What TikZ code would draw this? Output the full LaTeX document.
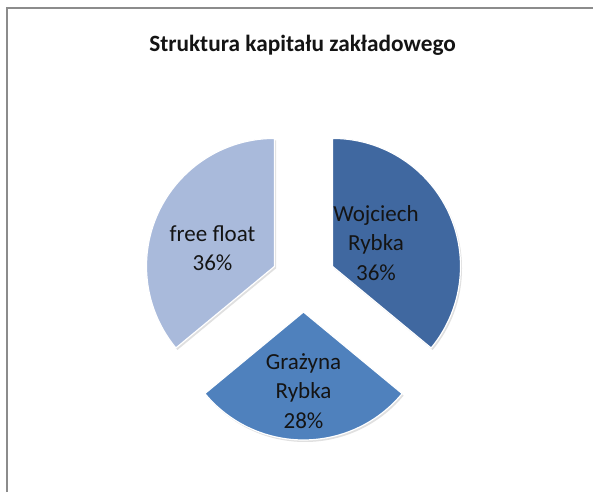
\documentclass[tikz,border=0pt]{standalone}
\usepackage{fontspec}
\setmainfont{Carlito}
\definecolor{wojc}{HTML}{4068A0}
\definecolor{graz}{HTML}{4F81BD}
\definecolor{ffl}{HTML}{A9BADB}
\definecolor{frame}{HTML}{8C8C8C}
\definecolor{txt}{HTML}{141414}
\tikzset{
  slice/.style={draw=white, line width=1.2pt, line join=round},
  lbl/.style={align=center, text=txt, font=\fontsize{23}{29.5}\selectfont, inner sep=0pt},
  ttl/.style={text=txt, font=\fontsize{23.3}{28}\selectfont\bfseries, inner sep=0pt}
}
\begin{document}
\begin{tikzpicture}[x=1pt,y=1pt]
\useasboundingbox (0,0) rectangle (593,492);
\fill[white] (0,0) rectangle (593,492);
% frame
\draw[frame, line width=2pt] (7,0) -- (7,484) -- (593,484);
% title
\node[ttl] (title) at (302.5,447) {Struktura kapitału zakładowego};
% slices
\coordinate (cw) at (332.5,225.6);
\coordinate (cg) at (303.5,180);
\coordinate (cf) at (274.5,225.6);
\fill[black!12] ([shift={(1.5,-2)}]cw) -- ++(90:128) arc[start angle=90, end angle=-39.6, radius=128] -- cycle;
\fill[black!12] ([shift={(1.5,-2)}]cg) -- ++(-39.6:128) arc[start angle=-39.6, end angle=-140.4, radius=128] -- cycle;
\fill[black!12] ([shift={(1.5,-2)}]cf) -- ++(90:128) arc[start angle=90, end angle=219.6, radius=128] -- cycle;
\filldraw[slice, fill=wojc] (cw) -- ++(90:128) arc[start angle=90, end angle=-39.6, radius=128] -- cycle;
\filldraw[slice, fill=graz] (cg) -- ++(-39.6:128) arc[start angle=-39.6, end angle=-140.4, radius=128] -- cycle;
\filldraw[slice, fill=ffl] (cf) -- ++(90:128) arc[start angle=90, end angle=219.6, radius=128] -- cycle;
% labels
\node[lbl] (lw) at (376,249) {Wojciech\\Rybka\\36\%};
\node[lbl] (lg) at (303.5,101) {Grażyna\\Rybka\\28\%};
\node[lbl] (lf) at (212.5,244) {free float\\36\%};
\end{tikzpicture}
\end{document}
